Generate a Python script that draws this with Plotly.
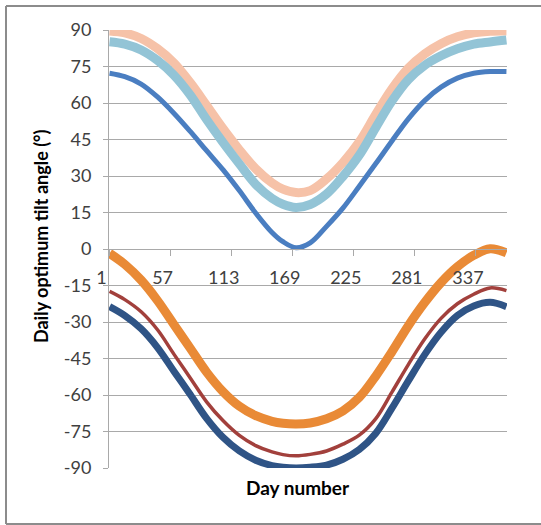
import plotly.graph_objects as go

# ---- data ----
days = [1, 15, 30, 45, 60, 75, 90, 105, 120, 135, 150, 160, 172, 185, 200,
        215, 230, 245, 260, 275, 290, 305, 320, 335, 350, 365]

series_peach = [89.6, 88.8, 86.5, 82.3, 76.5, 68.4, 59.0, 49.5, 40.8, 33.0, 27.2, 24.6, 23.2,
                24.0, 28.8, 35.5, 44.0, 55.2, 65.8, 74.3, 80.2, 84.4, 87.2, 88.8, 89.5, 89.6]
series_lightblue = [85.2, 84.2, 81.8, 77.5, 71.5, 63.3, 53.2, 43.8, 35.0, 26.6, 20.8, 18.4, 17.1,
                    18.3, 22.6, 29.8, 38.5, 49.8, 60.8, 69.6, 75.5, 79.4, 82.3, 84.2, 85.1, 85.9]
series_blue = [72.2, 70.8, 67.8, 62.5, 55.8, 48.3, 40.4, 32.6, 24.0, 14.8, 6.8, 3.0, 0.5,
               2.5, 9.3, 16.8, 25.8, 35.0, 44.4, 53.5, 61.0, 66.5, 70.2, 72.2, 72.9, 72.9]
series_orange = [-1.8, -6.3, -12.8, -21.2, -31.0, -40.8, -50.6, -58.6, -64.6, -68.5, -70.8, -71.6, -71.9,
                 -71.5, -69.8, -66.6, -61.0, -52.3, -42.2, -31.5, -22.0, -13.8, -7.3, -2.6, 0.1, -1.6]
series_darkred = [-17.4, -20.8, -25.8, -33.2, -43.2, -53.0, -62.8, -70.5, -76.6, -80.8, -83.4, -84.5, -85.0,
                  -84.4, -83.0, -80.2, -76.5, -69.8, -58.8, -47.5, -37.0, -28.5, -22.5, -18.6, -16.0, -17.1]
series_darkblue = [-23.7, -27.4, -32.8, -40.5, -50.2, -59.8, -69.6, -77.4, -83.0, -86.8, -89.0, -89.7, -90.0,
                   -89.7, -88.8, -86.4, -82.4, -75.8, -65.4, -54.2, -43.4, -34.2, -27.3, -23.4, -21.9, -23.7]

x_tick_vals = [1, 57, 113, 169, 225, 281, 337]
x_tick_text = ["1", "57", "113", "169", "225", "281", "337"]
y_tick_vals = [90, 75, 60, 45, 30, 15, 0, -15, -30, -45, -60, -75, -90]
y_tick_text = ["90", "75", "60", "45", "30", "15", "0", "-15", "-30", "-45", "-60", "-75", "-90"]

series = [
    (series_peach, "#F6C2A8", 9),
    (series_lightblue, "#93C4D6", 9),
    (series_blue, "#4A7EC1", 5),
    (series_orange, "#E98A36", 9),
    (series_darkred, "#A2403C", 3.5),
    (series_darkblue, "#2F5486", 7),
]

FONT = "Lato, 'Open Sans', sans-serif"
GRID = "#A9A9A9"
BORDER = "#8C8C8C"

fig = go.Figure()
for vals, color, w in series:
    fig.add_trace(go.Scatter(
        x=days, y=vals, mode="lines",
        line=dict(color=color, width=w, shape="spline", smoothing=1.0),
        showlegend=False, hoverinfo="skip",
    ))

bx0 = (6 - 109) / 398
bx1 = (560 - 109) / 398
by0 = (468 - 524) / 438
by1 = (468 - 6) / 438

fig.update_layout(
    width=541, height=525,
    margin=dict(l=109, r=34, t=30, b=57),
    paper_bgcolor="white", plot_bgcolor="white",
    font=dict(family=FONT, size=18, color="#404040"),
    xaxis=dict(
        range=[0.5, 365.5], tickmode="array", tickvals=x_tick_vals, ticktext=x_tick_text,
        showgrid=False, zeroline=False, showline=True, linecolor=GRID, linewidth=1,
        ticks="outside", ticklen=6, tickcolor=GRID, tickwidth=1,
        anchor="free", position=0.5, ticklabelshift=-8, ticklabelstandoff=6,
        automargin=False,
        tickfont=dict(family=FONT, size=18, color="#404040"),
    ),
    yaxis=dict(
        range=[-90, 90], tickmode="array", tickvals=y_tick_vals, ticktext=y_tick_text,
        showgrid=True, gridcolor=GRID, gridwidth=1, zeroline=False,
        showline=True, linecolor=GRID, linewidth=1,
        ticks="outside", ticklen=5, tickcolor=GRID, tickwidth=1,
        ticklabelstandoff=8, automargin=False,
        tickfont=dict(family=FONT, size=18, color="#404040"),
    ),
    annotations=[
        dict(text="Day number", xref="paper", yref="paper", x=0.475, y=-0.0434,
             showarrow=False, xanchor="center", yanchor="middle",
             font=dict(family=FONT, size=19, color="#000000", weight="bold")),
        dict(text="Daily optimum tilt angle (°)", xref="paper", yref="paper",
             x=(41 - 109) / 398, y=(468 - 236) / 438, textangle=-90, showarrow=False,
             xanchor="center", yanchor="middle",
             font=dict(family=FONT, size=18, color="#000000", weight="bold")),
    ],
    shapes=[
        dict(type="line", xref="paper", yref="paper", x0=bx0, x1=bx0, y0=by0, y1=by1,
             line=dict(color=BORDER, width=2), layer="below"),
        dict(type="line", xref="paper", yref="paper", x0=bx0, x1=bx1, y0=by1, y1=by1,
             line=dict(color=BORDER, width=2), layer="below"),
        dict(type="line", xref="paper", yref="paper", x0=bx0, x1=bx1, y0=by0, y1=by0,
             line=dict(color=BORDER, width=2), layer="below"),
    ],
)

fig.write_html("out.html", config={"displayModeBar": False},
               post_script="document.body.style.margin='0';document.body.style.overflow='hidden';")
